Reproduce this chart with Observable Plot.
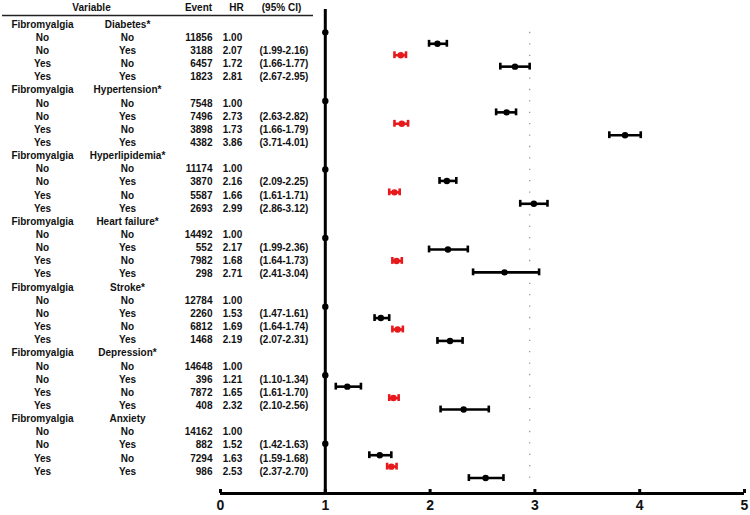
<!DOCTYPE html>
<html><head><meta charset="utf-8">
<script src="https://cdn.jsdelivr.net/npm/d3@7"></script>
<script src="https://cdn.jsdelivr.net/npm/@observablehq/plot@0.6"></script>
<style>
body{margin:0;background:#fff;}
#wrap{position:relative;width:750px;height:515px;overflow:hidden;background:#fff;}
#wrap svg{position:absolute;left:0;top:0;}
</style></head><body><div id="wrap"></div>
<script>
// ---------- data ----------
const comorbidities = ["Diabetes*", "Hypertension*", "Hyperlipidemia*", "Heart failure*", "Stroke*", "Depression*", "Anxiety"];
const fibromyalgiaLevels = ["No", "No", "Yes", "Yes"];
const comorbidityLevels = ["No", "Yes", "No", "Yes"];
const events = [
  [11856, 3188, 6457, 1823],
  [7548, 7496, 3898, 4382],
  [11174, 3870, 5587, 2693],
  [14492, 552, 7982, 298],
  [12784, 2260, 6812, 1468],
  [14648, 396, 7872, 408],
  [14162, 882, 7294, 986]
];
const hazardRatios = [
  [1.00, 2.07, 1.72, 2.81],
  [1.00, 2.73, 1.73, 3.86],
  [1.00, 2.16, 1.66, 2.99],
  [1.00, 2.17, 1.68, 2.71],
  [1.00, 1.53, 1.69, 2.19],
  [1.00, 1.21, 1.65, 2.32],
  [1.00, 1.52, 1.63, 2.53]
];
const ciLower = [
  [null, 1.99, 1.66, 2.67],
  [null, 2.63, 1.66, 3.71],
  [null, 2.09, 1.61, 2.86],
  [null, 1.99, 1.64, 2.41],
  [null, 1.47, 1.64, 2.07],
  [null, 1.10, 1.61, 2.10],
  [null, 1.42, 1.59, 2.37]
];
const ciUpper = [
  [null, 2.16, 1.77, 2.95],
  [null, 2.82, 1.79, 4.01],
  [null, 2.25, 1.71, 3.12],
  [null, 2.36, 1.73, 3.04],
  [null, 1.61, 1.74, 2.31],
  [null, 1.34, 1.70, 2.56],
  [null, 1.63, 1.68, 2.70]
];
const xTicks = [0, 1, 2, 3, 4, 5];
const headerLabels = ["Variable", "Event", "HR", "(95% CI)"];
const groupLabel = "Fibromyalgia";
const dottedGuide = [2.95];

// ---------- layout / style ----------
const FONT = '"Liberation Sans", Arial, sans-serif';
const RED = "#e8191c";
const INK = "#111";
const headerX = [91, 198, 236, 281];
const colX = {fibro: 42, comorb: 127, event: 212, hr: 232, ci: 259};

const rows = [];
comorbidities.forEach((name, g) => {
  fibromyalgiaLevels.forEach((f, r) => {
    const c = comorbidityLevels[r];
    rows.push({
      g, r, name, fibro: f, comorb: c,
      event: events[g][r], hr: hazardRatios[g][r],
      lo: ciLower[g][r], hi: ciUpper[g][r],
      slot: g * 6 + r,
      tableRow: g * 5 + r + 1,
      color: (f === "Yes" && c === "No") ? RED : "#000"
    });
  });
});
const ciRows = rows.filter(d => d.lo != null);
const groupRows = comorbidities.map((name, g) => ({name, tableRow: g * 5}));
const maxSlot = d3.max(rows, d => d.slot);
const slotBottom = 40.35;

// ---------- forest plot ----------
const forest = Plot.plot({
  width: 750, height: 515,
  marginLeft: 220, marginRight: 6, marginTop: 9, marginBottom: 22,
  x: {domain: [0, 5]},
  y: {domain: [-2, slotBottom], range: [9, 493], axis: null},
  color: {type: "identity"},
  style: {fontFamily: FONT, background: "transparent", color: INK},
  marks: [
    Plot.ruleX(dottedGuide, {y1: 0, y2: maxSlot + 0.6, stroke: "#9a9a9a", strokeWidth: 1.3, strokeDasharray: "1.3,10.1"}),
    Plot.ruleX([1], {stroke: "#000", strokeWidth: 3}),
    Plot.ruleY([slotBottom], {stroke: "#000", strokeWidth: 3}),
    Plot.ruleX(xTicks, {y1: slotBottom, y2: slotBottom - 0.35, stroke: "#000", strokeWidth: 3}),
    Plot.axisX(xTicks, {tickSize: 0, tickPadding: 7, fontSize: 14, fontWeight: "bold", fill: INK, fontFamily: FONT, tickFormat: d => String(d), label: null}),
    Plot.ruleY(ciRows, {x1: "lo", x2: "hi", y: "slot", stroke: "color", strokeWidth: 2.6}),
    Plot.ruleX(ciRows, {x: "lo", y1: d => d.slot - 0.3, y2: d => d.slot + 0.3, stroke: "color", strokeWidth: 2.6}),
    Plot.ruleX(ciRows, {x: "hi", y1: d => d.slot - 0.3, y2: d => d.slot + 0.3, stroke: "color", strokeWidth: 2.6}),
    Plot.dot(rows, {x: "hr", y: "slot", r: 3.2, fill: "color", stroke: null})
  ]
});

// ---------- table ----------
const txt = {fontFamily: FONT, fontSize: 10, fontWeight: "bold", fill: INK};
const table = Plot.plot({
  width: 330, height: 515, margin: 0,
  x: {domain: [0, 330], range: [0, 330], axis: null},
  y: {domain: [0, 34], range: [24, 471], axis: null},
  style: {background: "transparent"},
  marks: [
    Plot.text(headerLabels, {x: (d, i) => headerX[i], y: () => -1.25, text: d => d, ...txt}),
    Plot.ruleY([-0.68], {x1: 2, x2: 313, stroke: "#222", strokeWidth: 1.5}),
    Plot.text(groupRows, {x: () => colX.fibro, y: "tableRow", text: () => groupLabel, ...txt}),
    Plot.text(groupRows, {x: () => colX.comorb, y: "tableRow", text: "name", ...txt}),
    Plot.text(rows, {x: () => colX.fibro, y: "tableRow", text: "fibro", ...txt}),
    Plot.text(rows, {x: () => colX.comorb, y: "tableRow", text: "comorb", ...txt}),
    Plot.text(rows, {x: () => colX.event, y: "tableRow", text: d => String(d.event), textAnchor: "end", ...txt}),
    Plot.text(rows, {x: () => colX.hr, y: "tableRow", text: d => d.hr.toFixed(2), ...txt}),
    Plot.text(ciRows, {x: () => colX.ci, y: "tableRow", text: d => `(${d.lo.toFixed(2)}-${d.hi.toFixed(2)})`, textAnchor: "start", ...txt})
  ]
});

const wrap = document.getElementById("wrap");
wrap.appendChild(forest);
wrap.appendChild(table);
</script>
</body></html>
